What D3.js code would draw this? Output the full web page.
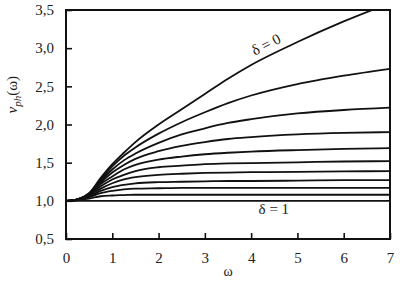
<!DOCTYPE html>
<html>
	<head>
		<title>Phase velocity</title>
		<style>
			body, html {
				margin: 0;
				padding: 0;
				background: #fff;
			}
		</style>
	</head>
	<body>

		<svg id="svg" width="402" height="287" font-family="Liberation Serif"></svg>

		<script src="https://d3js.org/d3.v7.min.js"></script>
		<script>
		const omega = [0, 0.25, 0.5, 0.75, 1, 1.25, 1.5, 2, 2.5, 3, 3.5, 4, 5, 6, 7]

		// One curve per delta, delta = 0, 0.1, ... 1
		const deltas = [0, 0.1, 0.2, 0.3, 0.4, 0.5, 0.6, 0.7, 0.8, 0.9, 1]
		const vph = [
			[1.00, 1.02, 1.10, 1.30, 1.48, 1.63, 1.77, 2.00, 2.20, 2.40, 2.60, 2.78, 3.08, 3.35, 3.59],
			[1.00, 1.02, 1.10, 1.28, 1.45, 1.59, 1.70, 1.88, 2.03, 2.16, 2.28, 2.38, 2.53, 2.64, 2.73],
			[1.00, 1.02, 1.09, 1.26, 1.41, 1.53, 1.62, 1.76, 1.87, 1.95, 2.02, 2.07, 2.145, 2.19, 2.22],
			[1.00, 1.02, 1.09, 1.24, 1.37, 1.47, 1.55, 1.65, 1.72, 1.77, 1.81, 1.835, 1.87, 1.89, 1.90],
			[1.00, 1.02, 1.08, 1.22, 1.32, 1.41, 1.47, 1.54, 1.58, 1.61, 1.63, 1.645, 1.665, 1.68, 1.69],
			[1.00, 1.02, 1.08, 1.19, 1.28, 1.34, 1.39, 1.44, 1.46, 1.48, 1.49, 1.495, 1.505, 1.515, 1.52],
			[1.00, 1.01, 1.07, 1.16, 1.23, 1.28, 1.31, 1.34, 1.355, 1.365, 1.37, 1.375, 1.38, 1.385, 1.39],
			[1.00, 1.01, 1.06, 1.13, 1.18, 1.21, 1.23, 1.245, 1.25, 1.255, 1.26, 1.26, 1.265, 1.27, 1.27],
			[1.00, 1.01, 1.05, 1.10, 1.13, 1.15, 1.16, 1.165, 1.17, 1.17, 1.17, 1.17, 1.17, 1.17, 1.17],
			[1.00, 1.01, 1.03, 1.06, 1.07, 1.075, 1.08, 1.08, 1.08, 1.08, 1.08, 1.08, 1.08, 1.08, 1.08],
			[1.00, 1.00, 1.00, 1.00, 1.00, 1.00, 1.00, 1.00, 1.00, 1.00, 1.00, 1.00, 1.00, 1.00, 1.00]
		]

		// Tick values and labels
		const xTicks = [0, 1, 2, 3, 4, 5, 6, 7]
		const yTicks = [0.5, 1.0, 1.5, 2.0, 2.5, 3.0, 3.5]
		const yTickLabels = ['0,5', '1,0', '1,5', '2,0', '2,5', '3,0', '3,5']

		// Curve labels: [text, omega, v]
		const curveLabels = [
			['δ = 0', 4.34, 3.03],
			['δ = 1', 4.49, 0.87]
		]

		// Plot box
		const boxLeft = 66
		const boxRight = 390
		const boxTop = 10
		const boxBottom = 239
		const serif = 'Liberation Serif'

		const svg = d3.select('#svg')

		const xscale = d3.scaleLinear()
			.domain([0, 7])
			.range([boxLeft, boxRight])

		const yscale = d3.scaleLinear()
			.domain([0.5, 3.5])
			.range([boxBottom, boxTop])

		// clip curves to the box (delta = 0 runs off the top)
		svg.append('clipPath')
			.attr('id', 'clip')
			.append('rect')
			.attr('x', boxLeft)
			.attr('y', boxTop)
			.attr('width', boxRight - boxLeft)
			.attr('height', boxBottom - boxTop)

		const linegen = d3.line()
			.x((d, i) => xscale(omega[i]))
			.y(d => yscale(d))
			.curve(d3.curveMonotoneX)

		svg.append('g')
			.attr('clip-path', 'url(#clip)')
			.selectAll('path')
			.data(vph)
			.join('path')
			.attr('d', d => linegen(d))
			.attr('fill', 'none')
			.attr('stroke', '#111')
			.attr('stroke-width', 1.8)

		// bottom axis, ticks point inwards
		const bottomAxis = d3.axisBottom(xscale)
			.tickValues(xTicks)
			.tickFormat(d3.format('d'))
			.tickSizeInner(-6)
			.tickSizeOuter(0)
			.tickPadding(13)
		const gx = svg.append('g')
			.attr('transform', `translate(0, ${boxBottom})`)
			.call(bottomAxis)

		// left axis, ticks point inwards
		const leftAxis = d3.axisLeft(yscale)
			.tickValues(yTicks)
			.tickFormat((d, i) => yTickLabels[i])
			.tickSizeInner(-6)
			.tickSizeOuter(0)
			.tickPadding(12)
		const gy = svg.append('g')
			.attr('transform', `translate(${boxLeft}, 0)`)
			.call(leftAxis)

		for (const g of [gx, gy]) {
			g.attr('font-family', serif)
			g.select('.domain').remove()
			g.selectAll('line').attr('stroke', '#111').attr('stroke-width', 1.6)
			g.selectAll('text')
				.attr('font-family', serif)
				.attr('font-size', 15)
				.attr('fill', '#222')
		}

		// frame round the plot
		svg.append('rect')
			.attr('x', boxLeft)
			.attr('y', boxTop)
			.attr('width', boxRight - boxLeft)
			.attr('height', boxBottom - boxTop)
			.attr('fill', 'none')
			.attr('stroke', '#111')
			.attr('stroke-width', 2)

		// labels on the curves
		svg.selectAll('.clabel')
			.data(curveLabels)
			.join('text')
			.attr('class', 'clabel')
			.attr('transform', (d, i) => `translate(${xscale(d[1])}, ${yscale(d[2])}) rotate(${i === 0 ? -27 : 0})`)
			.attr('text-anchor', 'middle')
			.attr('dominant-baseline', 'middle')
			.attr('font-family', serif)
			.attr('font-size', 15)
			.attr('fill', '#1a1a1a')
			.text(d => d[0])

		// axis titles
		svg.append('text')
			.attr('x', xscale(3.5))
			.attr('y', 276)
			.attr('text-anchor', 'middle')
			.attr('font-family', serif)
			.attr('font-size', 14)
			.attr('fill', '#1a1a1a')
			.text('ω')

		const ylab = svg.append('text')
			.attr('transform', `translate(17, ${yscale(2.39)}) rotate(-90)`)
			.attr('text-anchor', 'middle')
			.attr('font-family', serif)
			.attr('font-size', 15)
			.attr('fill', '#1a1a1a')
		ylab.append('tspan').attr('font-style', 'italic').text('v')
		ylab.append('tspan').attr('font-style', 'italic').attr('font-size', 11).attr('dy', 4).text('ph')
		ylab.append('tspan').attr('dy', -4).text('(ω)')
		</script>
	</body>
</html>
